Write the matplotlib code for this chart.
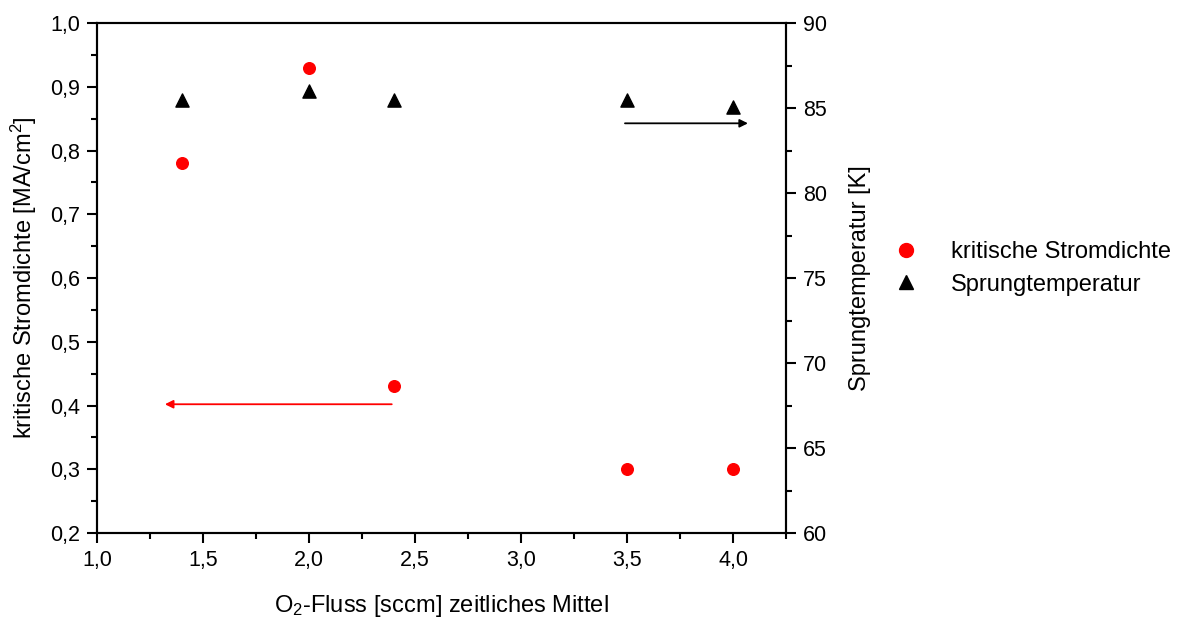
import matplotlib
matplotlib.use("Agg")
import matplotlib.pyplot as plt
from matplotlib.ticker import MultipleLocator, FuncFormatter
from matplotlib.lines import Line2D

plt.rcParams["font.family"] = ["Liberation Sans", "DejaVu Sans"]
plt.rcParams["mathtext.fontset"] = "custom"
plt.rcParams["mathtext.rm"] = "Liberation Sans"
plt.rcParams["mathtext.it"] = "Liberation Sans:italic"

# O2 flow [sccm]
flow = [1.4, 2.0, 2.4, 3.5, 4.0]
# critical current density [MA/cm^2]
jc = [0.78, 0.93, 0.43, 0.30, 0.30]
# transition temperature [K]
tc = [85.5, 86.0, 85.5, 85.5, 85.05]

# arrows pointing to the axis that belongs to each series
arrow_jc = (2.39, 1.32, 0.402)   # x start, x end, y (left axis)
arrow_tc = (3.49, 4.07, 84.1)    # x start, x end, y (right axis)


def comma(val, pos):
    return f"{val:.1f}".replace(".", ",")


fig = plt.figure(figsize=(11.88, 6.17), dpi=100)
ax = fig.add_axes([0.0817, 0.1361, 0.58, 0.8266])
ax2 = ax.twinx()

ax.scatter(flow, jc, s=70, marker="o", color="red", zorder=3)
ax2.scatter(flow, tc, s=90, marker="^", color="black", zorder=3)

ax.annotate("", xy=(arrow_jc[1], arrow_jc[2]), xytext=(arrow_jc[0], arrow_jc[2]),
            arrowprops=dict(arrowstyle="-|>", color="red", lw=1.3,
                            mutation_scale=12, shrinkA=0, shrinkB=0))
ax2.annotate("", xy=(arrow_tc[1], arrow_tc[2]), xytext=(arrow_tc[0], arrow_tc[2]),
             arrowprops=dict(arrowstyle="-|>", color="black", lw=1.3,
                             mutation_scale=12, shrinkA=0, shrinkB=0))

ax.set_xlim(1.0, 4.25)
ax.set_ylim(0.2, 1.0)
ax2.set_ylim(60, 90)

ax.xaxis.set_major_locator(MultipleLocator(0.5))
ax.xaxis.set_minor_locator(MultipleLocator(0.25))
ax.yaxis.set_major_locator(MultipleLocator(0.1))
ax.yaxis.set_minor_locator(MultipleLocator(0.05))
ax2.yaxis.set_major_locator(MultipleLocator(5))
ax2.yaxis.set_minor_locator(MultipleLocator(2.5))
ax.xaxis.set_major_formatter(FuncFormatter(comma))
ax.yaxis.set_major_formatter(FuncFormatter(comma))

for a in (ax, ax2):
    a.tick_params(which="major", direction="out", length=7, width=1.5,
                  labelsize=15.5, pad=5)
    a.tick_params(which="minor", direction="out", length=4, width=1.5)
    for sp in a.spines.values():
        sp.set_linewidth(1.5)
ax.tick_params(top=False, right=False)

ax.set_xlabel("O$_2$-Fluss [sccm] zeitliches Mittel", fontsize=17, labelpad=16)
ax.set_ylabel("kritische Stromdichte [MA/cm$^2$]", fontsize=17, labelpad=8)
ax2.set_ylabel("Sprungtemperatur [K]", fontsize=17, labelpad=16)

handles = [
    Line2D([], [], marker="o", color="red", linestyle="none", markersize=10),
    Line2D([], [], marker="^", color="black", linestyle="none", markersize=10),
]
fig.legend(handles, ["kritische Stromdichte", "Sprungtemperatur"],
           loc="center left", bbox_to_anchor=(0.725, 0.565), frameon=False,
           fontsize=17, handletextpad=0.9, labelspacing=0.45)

fig.savefig("out.png", dpi=100)
